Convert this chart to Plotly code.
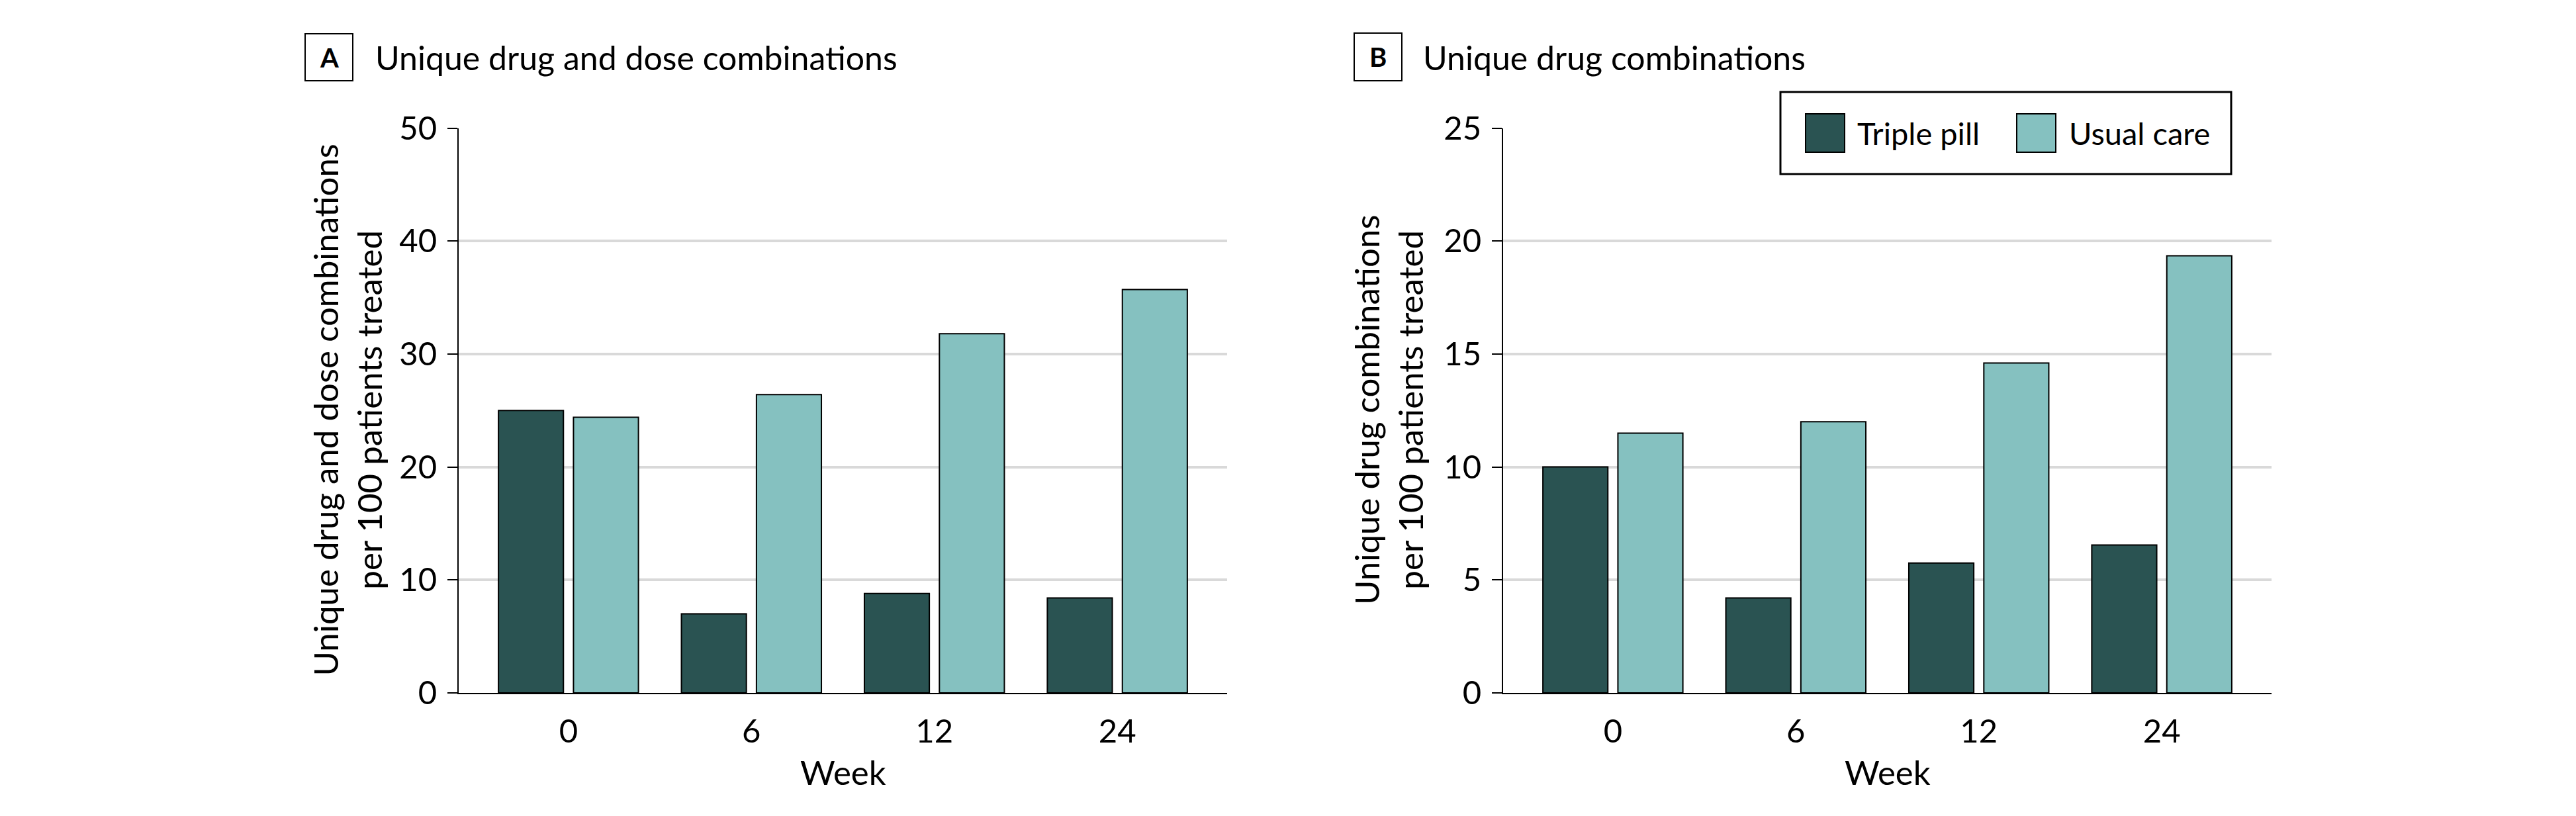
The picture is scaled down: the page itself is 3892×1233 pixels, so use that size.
import plotly.graph_objects as go

# Page body has an 8px default margin; figure sized so the page fits the window exactly.
OFF = 8
W, H = 3892 - 2 * OFF, 1233 - 2 * OFF

weeks = ["0", "6", "12", "24"]
series_names = ["Triple pill", "Usual care"]
a_triple = [25.0, 7.0, 8.8, 8.4]
a_usual = [24.4, 26.4, 31.8, 35.7]
b_triple = [10.0, 4.2, 5.75, 6.55]
b_usual = [11.5, 12.0, 14.6, 19.35]
a_ticks = [0, 10, 20, 30, 40, 50]
b_ticks = [0, 5, 10, 15, 20, 25]

panel_a_title = "Unique drug and dose combinations"
panel_b_title = "Unique drug combinations"
a_ytitle = "Unique drug and dose combinations<br>per 100 patients treated"
b_ytitle = "Unique drug combinations<br>per 100 patients treated"
x_title = "Week"

DARK = "#2a5352"
LIGHT = "#85c1c0"
FONT = "Lato"

def px(x):
    return (x - OFF) / W

def py(y):
    return 1 - (y - OFF) / H

fig = go.Figure()
for xa, ya, tp, uc in [("x", "y", a_triple, a_usual), ("x2", "y2", b_triple, b_usual)]:
    fig.add_trace(go.Bar(x=weeks, y=tp, name=series_names[0], xaxis=xa, yaxis=ya,
                         marker=dict(color=DARK, line=dict(color="black", width=2)),
                         showlegend=False))
    fig.add_trace(go.Bar(x=weeks, y=uc, name=series_names[1], xaxis=xa, yaxis=ya,
                         marker=dict(color=LIGHT, line=dict(color="black", width=2)),
                         showlegend=False))

ydom = [py(1047), py(193.5)]
xdomA = [px(693), px(1854)]
xdomB = [px(2271), px(3432)]

xcommon = dict(type="category", range=[-0.6, 3.6], showline=True, linecolor="black",
               linewidth=2, ticks="", showgrid=False, zeroline=False, automargin=False,
               tickfont=dict(family=FONT, size=49, color="black"), ticklabelstandoff=14)
ycommon = dict(showline=True, linecolor="black", linewidth=2, ticks="outside",
               ticklen=15, tickwidth=2, tickcolor="black", showgrid=True, automargin=False,
               gridcolor="#d9d9d9", gridwidth=4, zeroline=False,
               tickfont=dict(family=FONT, size=49, color="black"), ticklabelstandoff=6)

fig.update_layout(
    width=W, height=H, autosize=False,
    margin=dict(l=0, r=0, t=0, b=0, pad=0, autoexpand=False),
    paper_bgcolor="white", plot_bgcolor="white", showlegend=False,
    barmode="group", bargap=0.18, bargroupgap=0.134,
    xaxis=dict(domain=xdomA, anchor="y", **xcommon),
    xaxis2=dict(domain=xdomB, anchor="y2", **xcommon),
    yaxis=dict(domain=ydom, anchor="x", range=[0, 50], tickvals=a_ticks, **ycommon),
    yaxis2=dict(domain=ydom, anchor="x2", range=[0, 25], tickvals=b_ticks, **ycommon),
)

shapes = []
annotations = []

# Panel labels and titles
for (bx0, bx1, by0, by1, letter, tx, title) in [
    (461, 533, 51, 122, "A", 565, panel_a_title),
    (2046, 2118, 50, 122, "B", 2148, panel_b_title),
]:
    shapes.append(dict(type="rect", xref="paper", yref="paper",
                       x0=px(bx0), x1=px(bx1), y0=py(by1), y1=py(by0),
                       line=dict(color="black", width=2), fillcolor="white"))
    annotations.append(dict(text="<b>%s</b>" % letter, xref="paper", yref="paper",
                            x=px((bx0 + bx1) / 2), y=py((by0 + by1) / 2),
                            xanchor="center", yanchor="middle", showarrow=False,
                            font=dict(family=FONT, size=40, color="black")))
    annotations.append(dict(text=title, xref="paper", yref="paper",
                            x=px(tx), y=py(87), xanchor="left", yanchor="middle",
                            showarrow=False, font=dict(family=FONT, size=50, color="black")))

# Y axis titles
for cx, t in [(523.5, a_ytitle), (2097, b_ytitle)]:
    annotations.append(dict(text=t, xref="paper", yref="paper", x=px(cx), y=py(620),
                            xanchor="center", yanchor="middle", textangle=-90,
                            showarrow=False, font=dict(family=FONT, size=51, color="black")))

# X axis titles
for cx in [(693 + 1854) / 2, (2271 + 3432) / 2]:
    annotations.append(dict(text=x_title, xref="paper", yref="paper", x=px(cx), y=py(1166),
                            xanchor="center", yanchor="middle", showarrow=False,
                            font=dict(family=FONT, size=51, color="black")))

# Legend (panel B)
shapes.append(dict(type="rect", xref="paper", yref="paper", x0=px(2690), x1=px(3371),
                   y0=py(263), y1=py(139), line=dict(color="black", width=3),
                   fillcolor="white", layer="above"))
for (sx0, sx1, color, tx, name) in [(2728, 2787, DARK, 2804, series_names[0]),
                                    (3047, 3106, LIGHT, 3124, series_names[1])]:
    shapes.append(dict(type="rect", xref="paper", yref="paper", x0=px(sx0), x1=px(sx1),
                       y0=py(230), y1=py(172), line=dict(color="black", width=2),
                       fillcolor=color, layer="above"))
    annotations.append(dict(text=name, xref="paper", yref="paper", x=px(tx), y=py(201),
                            xanchor="left", yanchor="middle", showarrow=False,
                            font=dict(family=FONT, size=47, color="black")))

fig.update_layout(shapes=shapes, annotations=annotations)
fig.write_html("out.html", config={"responsive": False})
